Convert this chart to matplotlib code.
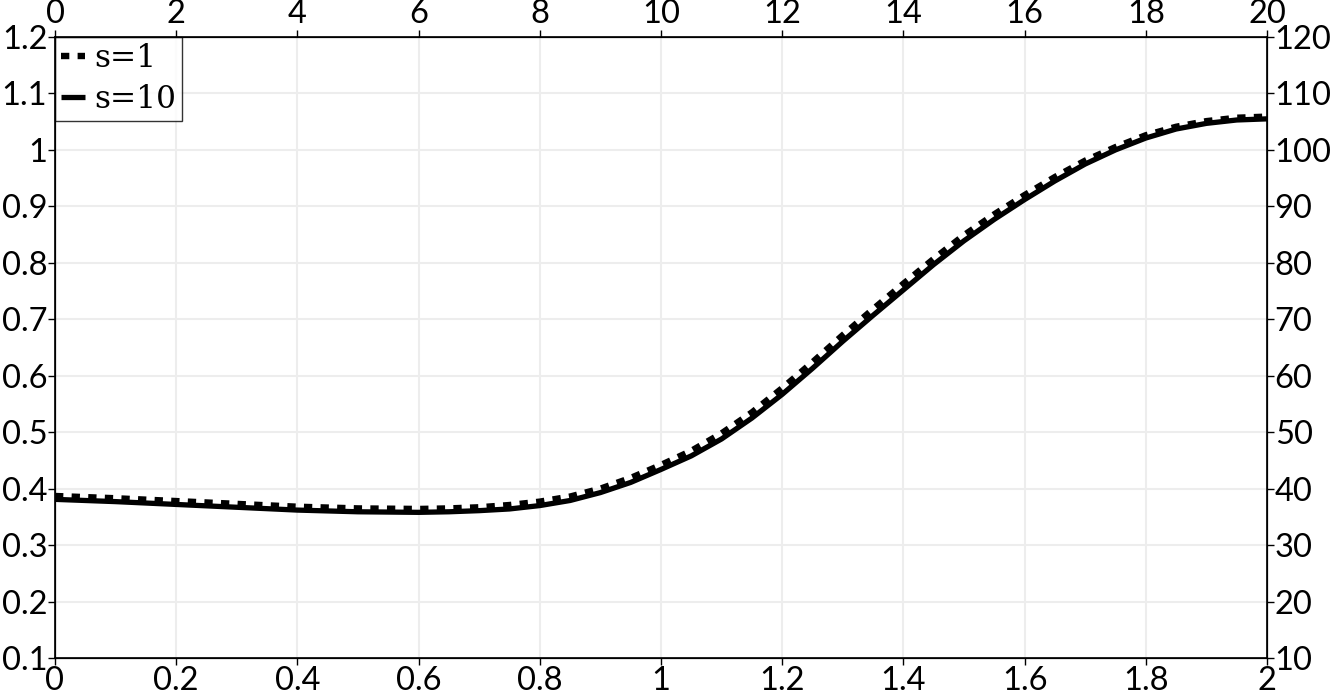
import matplotlib
matplotlib.use("Agg")
import matplotlib.pyplot as plt
from matplotlib.ticker import MultipleLocator, FormatStrFormatter

x_vals = [0.0, 0.1, 0.2, 0.3, 0.4, 0.5, 0.6, 0.65, 0.7, 0.75, 0.8, 0.85, 0.9, 0.95,
          1.0, 1.05, 1.1, 1.15, 1.2, 1.25, 1.3, 1.35, 1.4, 1.45, 1.5, 1.55, 1.6,
          1.65, 1.7, 1.75, 1.8, 1.85, 1.9, 1.95, 2.0]
s10_vals = [0.381, 0.377, 0.372, 0.367, 0.362, 0.359, 0.358, 0.359, 0.361, 0.364,
            0.370, 0.379, 0.393, 0.411, 0.434, 0.458, 0.488, 0.525, 0.567, 0.613,
            0.661, 0.707, 0.752, 0.797, 0.839, 0.877, 0.912, 0.945, 0.975, 1.000,
            1.021, 1.037, 1.047, 1.053, 1.055]
s1_vals = [0.387, 0.383, 0.378, 0.373, 0.368, 0.365, 0.364, 0.365, 0.367, 0.371,
           0.377, 0.386, 0.400, 0.419, 0.442, 0.467, 0.498, 0.535, 0.578, 0.624,
           0.672, 0.718, 0.763, 0.807, 0.849, 0.886, 0.920, 0.952, 0.981, 1.005,
           1.026, 1.041, 1.051, 1.057, 1.059]
labels = ["s=1", "s=10"]

TICK_FONT = "Lato"
TICK_SIZE = 23.5

fig = plt.figure(figsize=(13.3, 6.94), dpi=100)
ax = fig.add_axes([55/1330, 1-658/694, (1267-55)/1330, (658-37)/694])

ax.plot(x_vals, s1_vals, color="black", lw=4.6, linestyle=(0, (1.3, 1.3)),
        dash_capstyle="butt", dash_joinstyle="round", label=labels[0], zorder=3)
ax.plot(x_vals, s10_vals, color="black", lw=3.8, label=labels[1], zorder=4,
        solid_capstyle="butt", solid_joinstyle="round")

ax.set_xlim(0, 2)
ax.set_ylim(0.1, 1.2)
ax.xaxis.set_major_locator(MultipleLocator(0.2))
ax.yaxis.set_major_locator(MultipleLocator(0.1))
ax.xaxis.set_major_formatter(FormatStrFormatter("%g"))
ax.yaxis.set_major_formatter(FormatStrFormatter("%g"))
ax.grid(True, color="#ededed", lw=1.5)
ax.set_axisbelow(True)
for sp in ax.spines.values():
    sp.set_linewidth(1.2)


def style_ticks(a, axis):
    a.tick_params(axis=axis, direction="out", length=5, width=1, pad=0.5)
    labs = a.get_xticklabels() if axis == "x" else a.get_yticklabels()
    for lab in labs:
        lab.set_fontfamily(TICK_FONT)
        lab.set_fontsize(TICK_SIZE)
        lab.set_color("black")


style_ticks(ax, "x")
style_ticks(ax, "y")

axt = ax.twiny()
axt.set_xlim(0, 20)
axt.xaxis.set_major_locator(MultipleLocator(2))
axt.xaxis.set_major_formatter(FormatStrFormatter("%g"))
style_ticks(axt, "x")

axr = ax.twinx()
axr.set_ylim(10, 120)
axr.yaxis.set_major_locator(MultipleLocator(10))
axr.yaxis.set_major_formatter(FormatStrFormatter("%g"))
style_ticks(axr, "y")

leg = ax.legend(loc="upper left", bbox_to_anchor=(0, 1), borderaxespad=0,
                prop=dict(family="DejaVu Serif", size=22.5), frameon=True,
                fancybox=False, handlelength=0.75, handletextpad=0.3,
                borderpad=0.2, labelspacing=0.3, handleheight=0.7)
leg.get_frame().set_edgecolor("black")
leg.get_frame().set_linewidth(1)
leg.set_zorder(10)

fig.savefig("out.png", dpi=100)
